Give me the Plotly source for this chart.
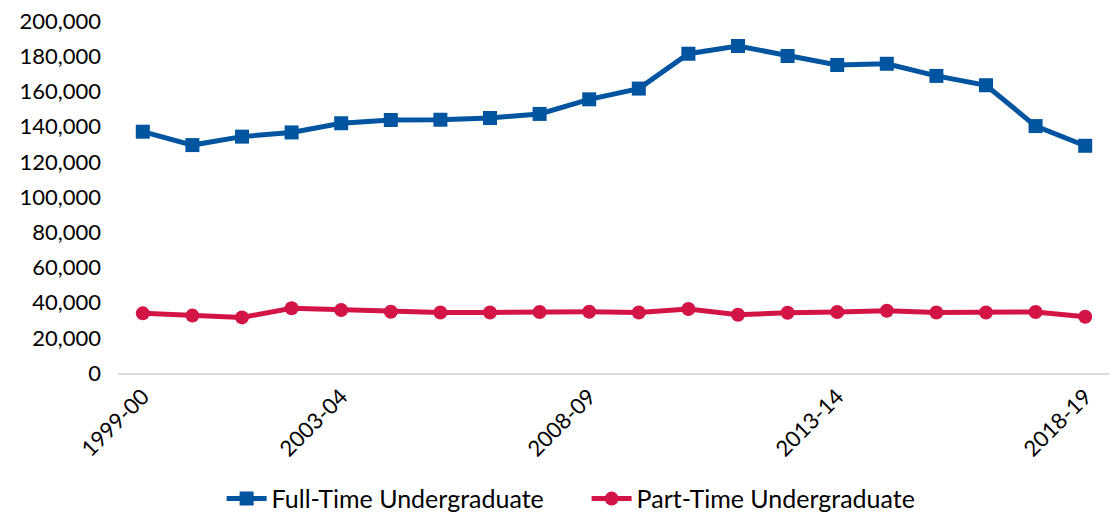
import plotly.graph_objects as go

years = ["1999-00", "2000-01", "2001-02", "2002-03", "2003-04", "2004-05", "2005-06",
         "2006-07", "2007-08", "2008-09", "2009-10", "2010-11", "2011-12", "2012-13",
         "2013-14", "2014-15", "2015-16", "2016-17", "2017-18", "2018-19"]
full_time = [137100, 129500, 134300, 136700, 141900, 143750, 143900, 144900, 147200, 155500,
             161600, 181400, 185800, 180100, 175000, 175700, 168800, 163500, 140300, 129100]
part_time = [33900, 32600, 31600, 36750, 35800, 34800, 34400, 34400, 34650, 34800,
             34400, 36350, 33100, 34250, 34650, 35400, 34400, 34400, 34650, 32000]
shown_ticks = ["1999-00", "2003-04", "2008-09", "2013-14", "2018-19"]
y_ticks = [0, 20000, 40000, 60000, 80000, 100000, 120000, 140000, 160000, 180000, 200000]

BLUE = "#0054A0"
RED = "#D31447"
FONT = "Lato"

fig = go.Figure()
fig.add_trace(go.Scatter(
    x=years, y=full_time, name="Full-Time Undergraduate", mode="lines+markers",
    line=dict(color=BLUE, width=5),
    marker=dict(symbol="square", size=14, color=BLUE),
))
fig.add_trace(go.Scatter(
    x=years, y=part_time, name="Part-Time Undergraduate", mode="lines+markers",
    line=dict(color=RED, width=5),
    marker=dict(symbol="circle", size=14, color=RED),
))

fig.update_layout(
    width=1117, height=514,
    margin=dict(l=110, r=15, t=13, b=149, autoexpand=False),
    paper_bgcolor="white", plot_bgcolor="white",
    font=dict(family=FONT, size=22, color="black"),
    showlegend=True,
    legend=dict(orientation="h", xref="container", yref="container",
                x=0.518, xanchor="center", y=0.045, yanchor="middle",
                font=dict(family=FONT, size=25, color="black"),
                itemwidth=40, entrywidth=310, entrywidthmode="pixels",
                tracegroupgap=0, bgcolor="rgba(0,0,0,0)"),
    xaxis=dict(type="category", categoryorder="array", categoryarray=years,
               range=[-0.5, len(years) - 0.5], automargin=False,
               tickmode="array", tickvals=shown_ticks, ticktext=shown_ticks,
               tickangle=-45, showgrid=False, zeroline=False,
               showline=True, linecolor="#D9D9D9", linewidth=2,
               ticks="", ticklabelstandoff=0, tickfont=dict(family=FONT, size=22)),
    yaxis=dict(range=[0, 200000], tickmode="array", tickvals=y_ticks, automargin=False,
               tickformat=",", showgrid=False, zeroline=False, showline=False,
               ticks="", ticklabelstandoff=16, ticklabeloverflow="allow",
               tickfont=dict(family=FONT, size=22)),
)

fig.write_html("out.html")
